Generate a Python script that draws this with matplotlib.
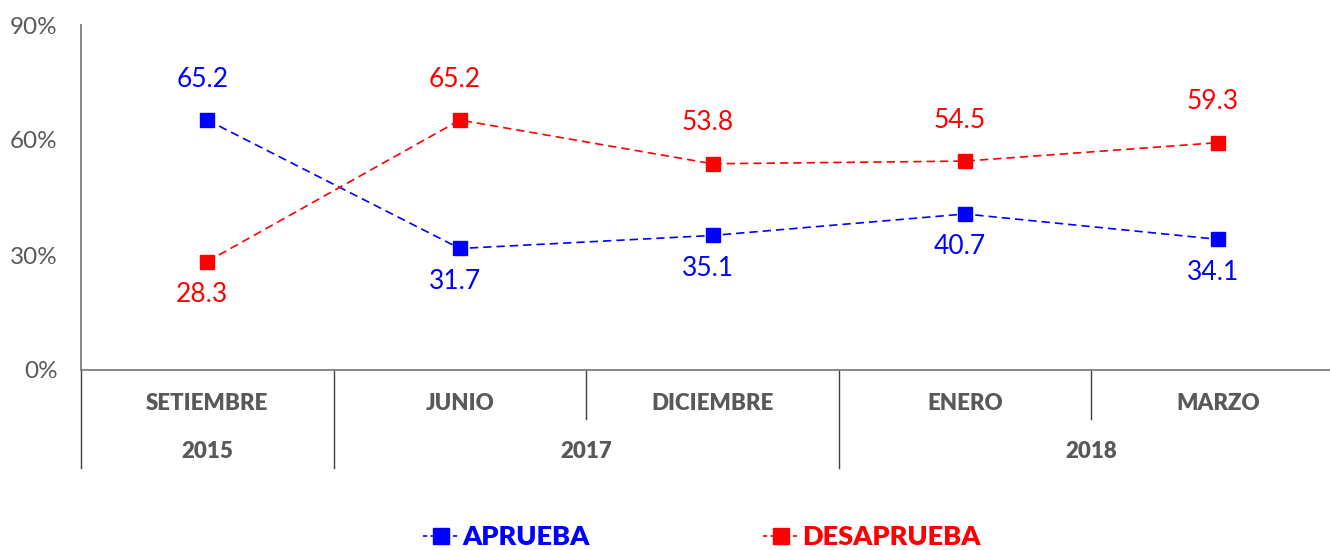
import matplotlib
matplotlib.use("Agg")
import matplotlib.pyplot as plt
from matplotlib.lines import Line2D

months = ["SETIEMBRE", "JUNIO", "DICIEMBRE", "ENERO", "MARZO"]
years = ["2015", "2017", "2018"]
year_spans = [(0, 0), (1, 2), (3, 4)]
aprueba = [65.2, 31.7, 35.1, 40.7, 34.1]
desaprueba = [28.3, 65.2, 53.8, 54.5, 59.3]
yticks = [0, 30, 60, 90]

plt.rcParams['font.family'] = ['Lato', 'DejaVu Sans']
GRAY = '#595959'
BLUE = '#0000FF'
RED = '#FF0000'

fig = plt.figure(figsize=(13.3, 5.5), dpi=100)
ax = fig.add_axes([81/1330, 1-370/550, (1344-81)/1330, 345/550])

x = list(range(len(months)))
ax.plot(x, aprueba, color=BLUE, ls=(0, (5, 3)), lw=1.2, marker='s', ms=10.5, mec=BLUE, mfc=BLUE, zorder=3)
ax.plot(x, desaprueba, color=RED, ls=(0, (5, 3)), lw=1.2, marker='s', ms=10.5, mec=RED, mfc=RED, zorder=3)

# data labels
apr_pos = ['above', 'below', 'below', 'below', 'below']
des_pos = ['below', 'above', 'above', 'above', 'above']
for xi, v, p in zip(x, aprueba, apr_pos):
    off = 41 if p == 'above' else -33
    ax.annotate(f"{v:.1f}", (xi, v), xytext=(-5, off), textcoords='offset pixels',
                ha='center', va='center', color=BLUE, fontsize=19)
for xi, v, p in zip(x, desaprueba, des_pos):
    off = 41 if p == 'above' else -33
    ax.annotate(f"{v:.1f}", (xi, v), xytext=(-5, off), textcoords='offset pixels',
                ha='center', va='center', color=RED, fontsize=19)

ax.set_xlim(-0.5, len(months) - 0.5)
ax.set_ylim(0, 90)
ax.set_yticks(yticks)
ax.set_yticklabels([f"{t}%" for t in yticks])
ax.tick_params(axis='y', length=0, labelsize=17.5, labelcolor=GRAY, pad=17)
ax.set_xticks([])
for s in ['top', 'right']:
    ax.spines[s].set_visible(False)
for s in ['left', 'bottom']:
    ax.spines[s].set_color('#7f7f7f')
    ax.spines[s].set_linewidth(1.3)

tr = ax.get_xaxis_transform()
ah = 345.0
y_month = -(404 - 370) / ah
y_year = -(452 - 370) / ah
y_short = -(419 - 370) / ah
y_long = -(468 - 370) / ah

for xi, m in zip(x, months):
    ax.text(xi, y_month, m, transform=tr, ha='center', va='center',
            fontsize=16, fontweight='heavy', color=GRAY)
for (a, b), yr in zip(year_spans, years):
    ax.text((a + b) / 2, y_year, yr, transform=tr, ha='center', va='center',
            fontsize=16, fontweight='heavy', color=GRAY)

# dividers
year_bounds = [-0.5] + [b + 0.5 for (a, b) in year_spans]
for xb in [i - 0.5 for i in range(len(months) + 1)]:
    bottom = y_long if xb in year_bounds else y_short
    ax.plot([xb, xb], [0, bottom], transform=tr, color='#404040', lw=1.0, clip_on=False)

handles = [Line2D([0], [0], color=BLUE, ls=(0, (2.5, 2)), lw=1.2, marker='s', ms=11, mfc=BLUE, mec=BLUE),
           Line2D([0], [0], color=RED, ls=(0, (2.5, 2)), lw=1.2, marker='s', ms=11, mfc=RED, mec=RED)]
leg = fig.legend(handles, ["APRUEBA", "DESAPRUEBA"], loc='center', bbox_to_anchor=(702/1330, 1-537/550),
                 ncol=2, frameon=False, handlelength=1.3, handletextpad=0.15, columnspacing=6.4,
                 prop={'size': 19.5, 'weight': 'heavy'})
for t, c in zip(leg.get_texts(), [BLUE, RED]):
    t.set_color(c)

fig.savefig("out.png", dpi=100)
